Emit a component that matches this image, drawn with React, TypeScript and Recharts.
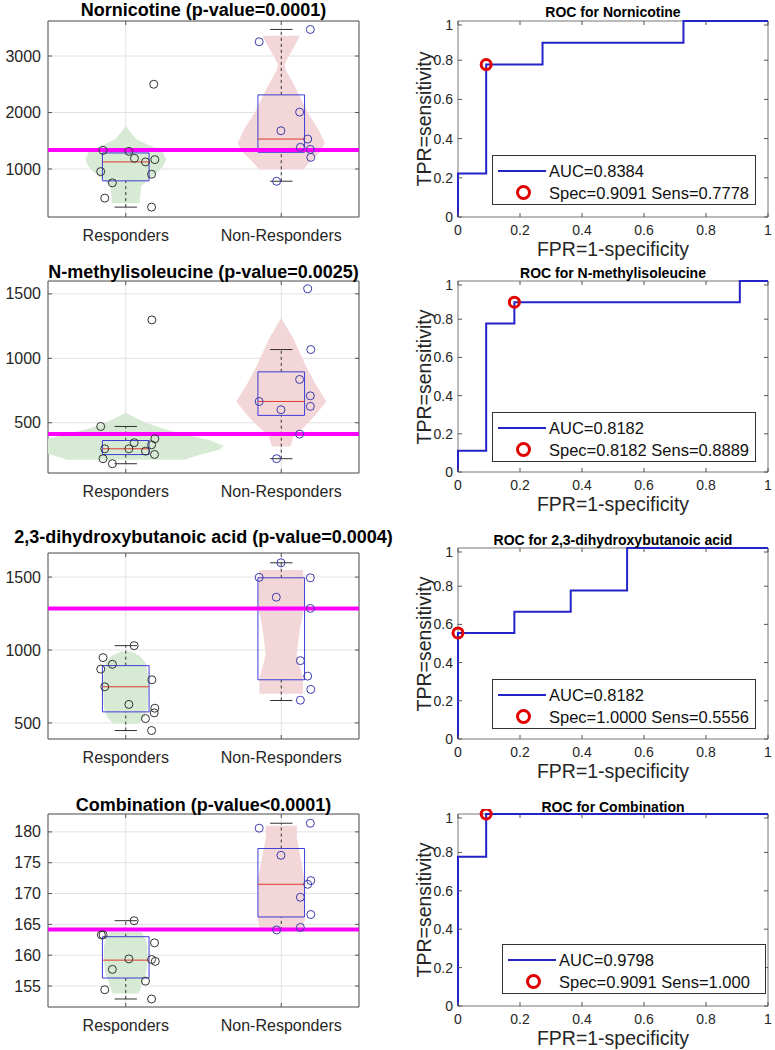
import React from "react";
import {
  ComposedChart,
  Scatter,
  Line,
  XAxis,
  YAxis,
  CartesianGrid,
  ReferenceArea,
  Legend,
} from "recharts";

const FONT = '"Liberation Sans", Arial, Helvetica, sans-serif';
const groups = ["Responders", "Non-Responders"];

// Nornicotine
const norRespX = [1.18, 0.854, 1.02, 1.056, 1.127, 1.187, 0.839, 1.166, 0.914, 0.865, 1.166];
const norRespY = [2500, 1330, 1312, 1189, 1125, 1166, 954, 907, 755, 484, 325];
const norNonX = [1.858, 2.187, 2.118, 1.998, 2.17, 2.123, 2.187, 2.19, 1.97];
const norNonY = [3252, 3470, 2007, 1677, 1530, 1383, 1347, 1206, 783];
// [lower whisker, q1, median, q3, upper whisker]
const norRespBox = [325, 790, 1125, 1284, 1330];
const norNonBox = [783, 1295, 1530, 2312, 3470];
// [value, half width]
const norRespViolin = [[1765, 0], [1650, 0.03], [1520, 0.07], [1420, 0.15], [1340, 0.23], [1170, 0.26], [1050, 0.24], [930, 0.2], [800, 0.14], [700, 0.1], [460, 0.09], [400, 0.09]];
const norNonViolin = [[3360, 0.12], [3200, 0.09], [3000, 0.05], [2850, 0.02], [2750, 0.03], [2500, 0.08], [2280, 0.12], [2000, 0.17], [1700, 0.24], [1460, 0.28], [1300, 0.25], [1166, 0.2], [990, 0.14]];
const norCut = 1337;
const norTicks = [1000, 2000, 3000];

// N-methylisoleucine
const nmiRespX = [1.168, 0.839, 1.187, 1.054, 1.166, 0.865, 1.02, 1.127, 1.185, 0.854, 0.914];
const nmiRespY = [1298, 471, 376, 345, 329, 298, 298, 280, 254, 221, 182];
const nmiNonX = [2.17, 2.19, 2.118, 2.187, 1.858, 1.998, 2.187, 2.118, 1.97];
const nmiNonY = [1539, 1068, 836, 709, 665, 601, 627, 412, 221];
const nmiRespBox = [182, 253, 298, 362, 471];
const nmiNonBox = [221, 557, 665, 895, 1068];
const nmiRespViolin = [[578, 0], [540, 0.06], [500, 0.13], [450, 0.25], [400, 0.42], [360, 0.55], [320, 0.63], [290, 0.6], [260, 0.5], [230, 0.42], [212, 0.38]];
const nmiNonViolin = [[1314, 0], [1250, 0.03], [1160, 0.075], [936, 0.16], [800, 0.22], [665, 0.29], [560, 0.22], [471, 0.15], [400, 0.08], [316, 0.06]];
const nmiCut = 412;
const nmiTicks = [500, 1000, 1500];

// 2,3-dihydroxybutanoic acid
const dhbRespX = [1.054, 0.854, 0.914, 0.839, 1.168, 0.865, 1.02, 1.187, 1.183, 1.127, 1.166];
const dhbRespY = [1030, 948, 902, 869, 796, 748, 627, 601, 569, 530, 448];
const dhbNonX = [1.998, 1.858, 2.187, 1.968, 2.187, 2.123, 2.17, 2.19, 2.123];
const dhbNonY = [1598, 1498, 1495, 1362, 1285, 927, 821, 730, 656];
const dhbRespBox = [448, 576, 748, 893, 1030];
const dhbNonBox = [654, 796, 1288, 1495, 1598];
const dhbRespViolin = [[990, 0.03], [960, 0.09], [907, 0.13], [814, 0.145], [700, 0.145], [600, 0.14], [540, 0.12], [494, 0.08]];
const dhbNonViolin = [[1548, 0.14], [1400, 0.15], [1296, 0.15], [1150, 0.12], [975, 0.1], [880, 0.12], [814, 0.14], [700, 0.14]];
const dhbCut = 1285;
const dhbTicks = [500, 1000, 1500];

// Combination
const cmbRespX = [1.054, 0.843, 0.854, 1.185, 1.02, 1.166, 1.19, 0.914, 1.127, 0.865, 1.166];
const cmbRespY = [165.6, 163.3, 163.3, 162.0, 159.4, 159.3, 159.0, 157.7, 155.8, 154.4, 152.9];
const cmbNonX = [2.187, 1.858, 1.998, 2.19, 2.17, 2.123, 2.19, 2.123, 1.97];
const cmbNonY = [181.4, 180.6, 176.2, 172.1, 171.5, 169.4, 166.6, 164.5, 164.1];
const cmbRespBox = [152.9, 156.3, 159.2, 163.0, 165.6];
const cmbNonBox = [164.1, 166.2, 171.5, 177.3, 181.4];
const cmbRespViolin = [[163.8, 0.1], [162.5, 0.13], [161.3, 0.14], [159, 0.14], [157, 0.13], [155, 0.1], [153.8, 0.085]];
const cmbNonViolin = [[181, 0.1], [179, 0.1], [177.6, 0.11], [175, 0.13], [172.2, 0.15], [168, 0.15], [165.7, 0.15], [164.3, 0.14]];
const cmbCut = 164.15;
const cmbTicks = [155, 160, 165, 170, 175, 180];

// ROC curves
const rocTicks = [0, 0.2, 0.4, 0.6, 0.8, 1];
const norFpr = [0, 0, 0.0909, 0.0909, 0.2727, 0.2727, 0.7273, 0.7273, 1];
const norTpr = [0, 0.2222, 0.2222, 0.7778, 0.7778, 0.8889, 0.8889, 1, 1];
const nmiFpr = [0, 0, 0.0909, 0.0909, 0.1818, 0.1818, 0.9091, 0.9091, 1];
const nmiTpr = [0, 0.1111, 0.1111, 0.7778, 0.7778, 0.8889, 0.8889, 1, 1];
const dhbFpr = [0, 0, 0.1818, 0.1818, 0.3636, 0.3636, 0.5455, 0.5455, 1];
const dhbTpr = [0, 0.5556, 0.5556, 0.6667, 0.6667, 0.7778, 0.7778, 1, 1];
const cmbFpr = [0, 0, 0.0909, 0.0909, 1];
const cmbTpr = [0, 0.7778, 0.7778, 1, 1];
const norOpt = [0.0909, 0.7778];
const nmiOpt = [0.1818, 0.8889];
const dhbOpt = [0, 0.5556];
const cmbOpt = [0.0909, 1];

type Rect = { x: number; y: number; w: number; h: number };

const toPts = (xs: number[], ys: number[]) => xs.map((x, i) => ({ x, y: ys[i] }));

const violin = (center: number, profile: number[][]) => [
  ...profile.map(([v, w]) => ({ x: center + w, y: v })),
  ...[...profile].reverse().map(([v, w]) => ({ x: center - w, y: v })),
];

// ticks drawn inward on both sides, MATLAB style
function makeYTick(plotW: number, margin: number, fontSize: number) {
  return (p: any) => {
    const ax = p.x + margin;
    return (
      <g>
        <line x1={ax} x2={ax + 4} y1={p.y} y2={p.y} stroke="#555" />
        <line x1={ax + plotW} x2={ax + plotW - 4} y1={p.y} y2={p.y} stroke="#555" />
        <text x={p.x} y={p.y} dy="0.35em" textAnchor="end" fontSize={fontSize} fill="#262626" fontFamily={FONT}>
          {String(p.payload.value)}
        </text>
      </g>
    );
  };
}

function makeXTick(plotH: number, margin: number, fontSize: number, fmt: (v: number) => string) {
  return (p: any) => {
    const ay = p.y - margin;
    return (
      <g>
        <line x1={p.x} x2={p.x} y1={ay} y2={ay - 4} stroke="#555" />
        <line x1={p.x} x2={p.x} y1={ay - plotH} y2={ay - plotH + 4} stroke="#555" />
        <text x={p.x} y={p.y} dy="0.71em" textAnchor="middle" fontSize={fontSize} fill="#262626" fontFamily={FONT}>
          {fmt(p.payload.value)}
        </text>
      </g>
    );
  };
}

const BOX_W = 0.15;
const CAP_W = 0.072;
const noDot = () => <g />;

// a path through data points, drawn as a Scatter line so it keeps JSX stacking order
function path(key: string, pts: { x: number; y: number }[], style: Record<string, any>) {
  return (
    <Scatter
      key={key}
      data={pts}
      isAnimationActive={false}
      line={{ fill: "none", ...style }}
      shape={noDot}
      legendType="none"
    />
  );
}

function boxParts(center: number, b: number[], key: string) {
  const [lo, q1, med, q3, hi] = b;
  const l = center - BOX_W, r = center + BOX_W;
  return [
    path(key + "w1", [{ x: center, y: q3 }, { x: center, y: hi }], { stroke: "#333", strokeDasharray: "3 3" }),
    path(key + "w2", [{ x: center, y: lo }, { x: center, y: q1 }], { stroke: "#333", strokeDasharray: "3 3" }),
    path(key + "c1", [{ x: center - CAP_W, y: hi }, { x: center + CAP_W, y: hi }], { stroke: "#333" }),
    path(key + "c2", [{ x: center - CAP_W, y: lo }, { x: center + CAP_W, y: lo }], { stroke: "#333" }),
    path(
      key + "b",
      [{ x: l, y: q1 }, { x: r, y: q1 }, { x: r, y: q3 }, { x: l, y: q3 }, { x: l, y: q1 }],
      { stroke: "#3d3dd6" }
    ),
    path(key + "m", [{ x: l, y: med }, { x: r, y: med }], { stroke: "#e03a2e" }),
  ];
}

function BoxPanel(props: {
  rect: Rect;
  yDomain: number[];
  yTicks: number[];
  respX: number[];
  respY: number[];
  nonX: number[];
  nonY: number[];
  respBox: number[];
  nonBox: number[];
  respViolin: number[][];
  nonViolin: number[][];
  cut: number;
}) {
  const { rect } = props;
  const L = 48, T = 5, R = 10, B = 40;
  const ring = (color: string) => (p: any) => (
    <circle cx={p.cx} cy={p.cy} r={4} fill="none" stroke={color} strokeWidth={1} />
  );
  return (
    <div style={{ position: "absolute", left: rect.x - L, top: rect.y - T }}>
      <ComposedChart width={L + rect.w + R} height={T + rect.h + B} margin={{ top: T, right: R, left: 0, bottom: 0 }}>
        <CartesianGrid stroke="#e2e2e2" />
        <XAxis
          type="number"
          dataKey="x"
          domain={[0.5, 2.5]}
          ticks={[1, 2]}
          allowDataOverflow
          height={B}
          tickSize={0}
          tickMargin={13}
          axisLine={false}
          tick={makeXTick(rect.h, 13, 16, (v) => groups[Math.round(v) - 1])}
        />
        <YAxis
          type="number"
          dataKey="y"
          domain={props.yDomain}
          ticks={props.yTicks}
          allowDataOverflow
          width={L}
          tickSize={0}
          tickMargin={7}
          axisLine={false}
          tick={makeYTick(rect.w, 7, 16)}
        />
        <ReferenceArea x1={0.5} x2={2.5} y1={props.yDomain[0]} y2={props.yDomain[1]} fill="none" fillOpacity={0} stroke="#555" />
        {path("v1", violin(1, props.respViolin), { fill: "#d6ead4", stroke: "none" })}
        {path("v2", violin(2, props.nonViolin), { fill: "#f3d6d7", stroke: "none" })}
        {boxParts(1, props.respBox, "r")}
        {boxParts(2, props.nonBox, "n")}
        {path("cut", [{ x: 0.5, y: props.cut }, { x: 2.5, y: props.cut }], { stroke: "#ff00ff", strokeWidth: 4 })}
        <Scatter data={toPts(props.respX, props.respY)} isAnimationActive={false} shape={ring("#333")} />
        <Scatter data={toPts(props.nonX, props.nonY)} isAnimationActive={false} shape={ring("#3b3bab")} />
      </ComposedChart>
    </div>
  );
}

const RocLegend = (props: any) => {
  const items: any[] = props.payload ?? [];
  const lineItem = items.find((d) => d.type === "line");
  const dotItem = items.find((d) => d.type !== "line");
  return (
    <div
      style={{
        width: 264,
        height: 50,
        boxSizing: "border-box",
        border: "1px solid #333",
        background: "#fff",
        position: "relative",
        fontFamily: FONT,
        fontSize: 16.5,
        color: "#111",
      }}
    >
      <div style={{ position: "absolute", left: 5, top: 14, width: 48, height: 2, background: "#2323c8" }} />
      <div style={{ position: "absolute", left: 56, top: 4, lineHeight: "22px", whiteSpace: "nowrap" }}>
        {lineItem ? lineItem.value : ""}
      </div>
      <div
        style={{
          position: "absolute",
          left: 23,
          top: 29,
          width: 9,
          height: 9,
          borderRadius: "50%",
          border: "3px solid #e00000",
        }}
      />
      <div style={{ position: "absolute", left: 56, top: 26, lineHeight: "22px", whiteSpace: "nowrap" }}>
        {dotItem ? dotItem.value : ""}
      </div>
    </div>
  );
};

function RocPanel(props: {
  rect: Rect;
  fpr: number[];
  tpr: number[];
  opt: number[];
  auc: string;
  spec: string;
  legendAt: number[];
}) {
  const { rect } = props;
  const L = 40, T = 5, R = 10, B = 30;
  const fmt = (v: number) => String(v);
  return (
    <div style={{ position: "absolute", left: rect.x - L, top: rect.y - T }}>
      <ComposedChart width={L + rect.w + R} height={T + rect.h + B} margin={{ top: T, right: R, left: 0, bottom: 0 }}>
        <ReferenceArea x1={0} x2={1} y1={0} y2={1} fill="none" fillOpacity={0} stroke="#777" />
        <XAxis
          type="number"
          dataKey="x"
          domain={[0, 1]}
          ticks={rocTicks}
          height={B}
          tickSize={0}
          tickMargin={8}
          axisLine={false}
          tick={makeXTick(rect.h, 8, 14, fmt)}
        />
        <YAxis
          type="number"
          dataKey="y"
          domain={[0, 1]}
          ticks={rocTicks}
          width={L}
          tickSize={0}
          tickMargin={5}
          axisLine={false}
          tick={makeYTick(rect.w, 5, 14)}
        />
        <Line
          data={toPts(props.fpr, props.tpr)}
          dataKey="y"
          type="linear"
          stroke="#2323c8"
          strokeWidth={2}
          dot={false}
          isAnimationActive={false}
          name={props.auc}
          legendType="line"
        />
        <Scatter
          data={[{ x: props.opt[0], y: props.opt[1] }]}
          isAnimationActive={false}
          name={props.spec}
          legendType="circle"
          shape={(p: any) => <circle cx={p.cx} cy={p.cy} r={5} fill="none" stroke="#e00000" strokeWidth={3} />}
        />
        <Legend
          layout="vertical"
          align="center"
          verticalAlign="middle"
          wrapperStyle={{ left: L + props.legendAt[0], top: T + props.legendAt[1], width: 264, height: 50 }}
          content={(p: any) => <RocLegend {...p} />}
        />
      </ComposedChart>
    </div>
  );
}

const leftRects: Rect[] = [
  { x: 48, y: 21, w: 311, h: 196 },
  { x: 48, y: 281, w: 311, h: 192 },
  { x: 48, y: 553, w: 311, h: 186 },
  { x: 48, y: 814, w: 311, h: 193 },
];
const rightRects: Rect[] = [
  { x: 458, y: 21, w: 310, h: 196 },
  { x: 458, y: 281, w: 310, h: 191 },
  { x: 458, y: 548, w: 310, h: 191 },
  { x: 458, y: 814, w: 310, h: 192 },
];
const leftTitleY = [10, 271.5, 536.5, 805];
const rightTitleY = [12, 273, 540, 807];

const leftTitles = [
  "Nornicotine (p-value=0.0001)",
  "N-methylisoleucine (p-value=0.0025)",
  "2,3-dihydroxybutanoic acid (p-value=0.0004)",
  "Combination (p-value<0.0001)",
];
const rightTitles = [
  "ROC for Nornicotine",
  "ROC for N-methylisoleucine",
  "ROC for 2,3-dihydroxybutanoic acid",
  "ROC for Combination",
];
const aucLabels = ["AUC=0.8384", "AUC=0.8182", "AUC=0.8182", "AUC=0.9798"];
const specLabels = [
  "Spec=0.9091 Sens=0.7778",
  "Spec=0.8182 Sens=0.8889",
  "Spec=1.0000 Sens=0.5556",
  "Spec=0.9091 Sens=1.000",
];

function Title({ cx, cy, text, size }: { cx: number; cy: number; text: string; size: number }) {
  return (
    <div
      style={{
        position: "absolute",
        left: cx - 250,
        width: 500,
        top: cy - 12,
        height: 24,
        lineHeight: "24px",
        textAlign: "center",
        fontWeight: "bold",
        fontSize: size,
        whiteSpace: "nowrap",
        color: "#000",
      }}
    >
      {text}
    </div>
  );
}

export default function App() {
  const boxes = [
    { yDomain: [150, 3620], yTicks: norTicks, respX: norRespX, respY: norRespY, nonX: norNonX, nonY: norNonY, respBox: norRespBox, nonBox: norNonBox, respViolin: norRespViolin, nonViolin: norNonViolin, cut: norCut },
    { yDomain: [110, 1600], yTicks: nmiTicks, respX: nmiRespX, respY: nmiRespY, nonX: nmiNonX, nonY: nmiNonY, respBox: nmiRespBox, nonBox: nmiNonBox, respViolin: nmiRespViolin, nonViolin: nmiNonViolin, cut: nmiCut },
    { yDomain: [390, 1665], yTicks: dhbTicks, respX: dhbRespX, respY: dhbRespY, nonX: dhbNonX, nonY: dhbNonY, respBox: dhbRespBox, nonBox: dhbNonBox, respViolin: dhbRespViolin, nonViolin: dhbNonViolin, cut: dhbCut },
    { yDomain: [151.6, 182.9], yTicks: cmbTicks, respX: cmbRespX, respY: cmbRespY, nonX: cmbNonX, nonY: cmbNonY, respBox: cmbRespBox, nonBox: cmbNonBox, respViolin: cmbRespViolin, nonViolin: cmbNonViolin, cut: cmbCut },
  ];
  const rocs = [
    { fpr: norFpr, tpr: norTpr, opt: norOpt, legendAt: [34, 134] },
    { fpr: nmiFpr, tpr: nmiTpr, opt: nmiOpt, legendAt: [34, 131] },
    { fpr: dhbFpr, tpr: dhbTpr, opt: dhbOpt, legendAt: [34, 131] },
    { fpr: cmbFpr, tpr: cmbTpr, opt: cmbOpt, legendAt: [44, 130] },
  ];
  return (
    <div
      style={{
        position: "absolute",
        left: 0,
        top: 0,
        width: 775,
        height: 1050,
        background: "#fff",
        fontFamily: FONT,
        color: "#262626",
      }}
    >
      {boxes.map((b, i) => (
        <BoxPanel key={"b" + i} rect={leftRects[i]} {...b} />
      ))}
      {rocs.map((r, i) => (
        <RocPanel key={"r" + i} rect={rightRects[i]} {...r} auc={aucLabels[i]} spec={specLabels[i]} />
      ))}
      {leftRects.map((r, i) => (
        <Title key={"lt" + i} cx={r.x + r.w / 2} cy={leftTitleY[i]} text={leftTitles[i]} size={18} />
      ))}
      {rightRects.map((r, i) => (
        <Title key={"rt" + i} cx={r.x + r.w / 2} cy={rightTitleY[i]} text={rightTitles[i]} size={14} />
      ))}
      {rightRects.map((r, i) => (
        <div
          key={"xl" + i}
          style={{
            position: "absolute",
            left: r.x + r.w / 2 - 150,
            width: 300,
            top: r.y + r.h + 32 - 13,
            height: 26,
            lineHeight: "26px",
            textAlign: "center",
            fontSize: 19.5,
            whiteSpace: "nowrap",
          }}
        >
          FPR=1-specificity
        </div>
      ))}
      {rightRects.map((r, i) => (
        <div
          key={"yl" + i}
          style={{
            position: "absolute",
            left: 424 - 100,
            width: 200,
            top: r.y + r.h / 2 - 13,
            height: 26,
            lineHeight: "26px",
            textAlign: "center",
            fontSize: 19.5,
            whiteSpace: "nowrap",
            transform: "rotate(-90deg)",
          }}
        >
          TPR=sensitivity
        </div>
      ))}
    </div>
  );
}
